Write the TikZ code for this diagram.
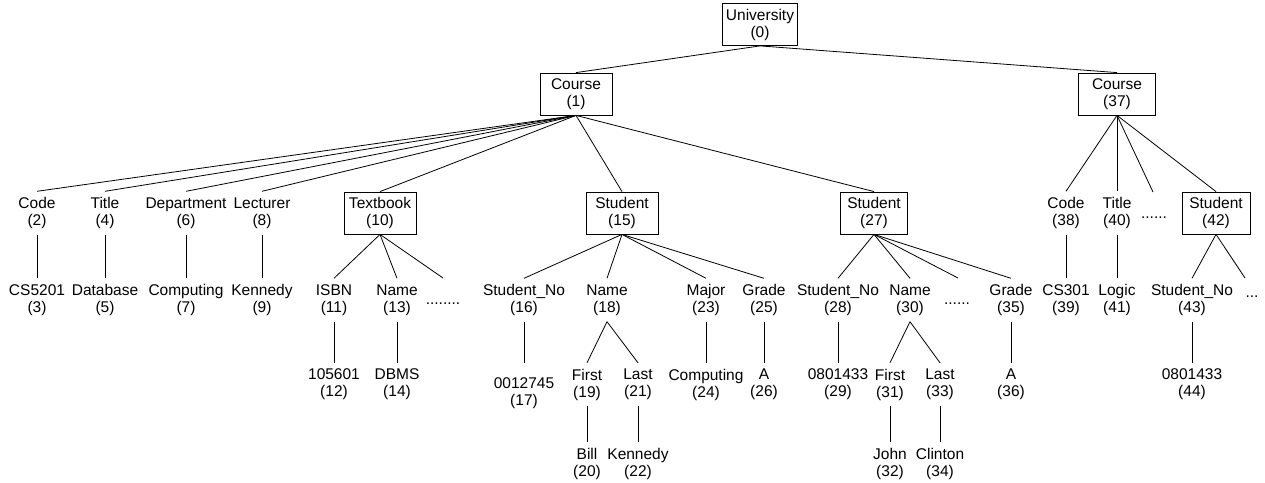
\documentclass[tikz,border=0pt]{standalone}
\usepackage{fontspec}
\setmainfont{Liberation Sans}
\newcommand{\lbfont}{\fontsize{15.5}{17}\selectfont}
\tikzset{
  box/.style={draw, line width=0.8pt, minimum width=72pt, minimum height=42pt, inner sep=0pt, align=center, font=\lbfont},
  lbl/.style={minimum height=43pt, inner sep=0pt, align=center, font=\lbfont},
  edge/.style={line width=0.8pt},
  dotsnode/.style={inner sep=0pt, font=\lbfont, anchor=base}
}
\begin{document}
\begin{tikzpicture}[x=1pt,y=-1pt]
\useasboundingbox (0,0) rectangle (1265,482);
% level 0 / course level
\node[box, minimum width=75pt] (n0) at (760,24.5) {University\\(0)};
\node[box] (n1) at (576,94) {Course\\(1)};
\node[box, minimum width=77pt] (n37) at (1117,94) {Course\\(37)};
% level 1
\node[lbl] (n2) at (37,213) {Code\\(2)};
\node[lbl] (n4) at (105,213) {Title\\(4)};
\node[lbl] (n6) at (186,213) {Department\\(6)};
\node[lbl] (n8) at (262,213) {Lecturer\\(8)};
\node[box] (n10) at (380,213) {Textbook\\(10)};
\node[box] (n15) at (622,213) {Student\\(15)};
\node[box, minimum width=67pt] (n27) at (874,213) {Student\\(27)};
\node[lbl] (n38) at (1066,213) {Code\\(38)};
\node[lbl] (n40) at (1117,213) {Title\\(40)};
\coordinate (d3) at (1153,192);
\node[dotsnode] (t3) at (1154,218) {......};
\node[box, minimum width=68pt] (n42) at (1216,213) {Student\\(42)};
% level 2
\node[lbl] (n3) at (37,300) {CS5201\\(3)};
\node[lbl] (n5) at (105,300) {Database\\(5)};
\node[lbl] (n7) at (186,300) {Computing\\(7)};
\node[lbl] (n9) at (262,300) {Kennedy\\(9)};
\node[lbl] (n11) at (334,300) {ISBN\\(11)};
\node[lbl] (n13) at (397,300) {Name\\(13)};
\coordinate (d1) at (443,278);
\node[dotsnode] (t1) at (443,304.5) {........};
\node[lbl] (n16) at (524,300) {Student\_No\\(16)};
\node[lbl] (n18) at (607,300) {Name\\(18)};
\node[lbl] (n23) at (706,300) {Major\\(23)};
\node[lbl] (n25) at (764,300) {Grade\\(25)};
\node[lbl] (n28) at (838,300) {Student\_No\\(28)};
\node[lbl] (n30) at (910,300) {Name\\(30)};
\coordinate (d2) at (958,278);
\node[dotsnode] (t2) at (957,304.5) {......};
\node[lbl] (n35) at (1011,300) {Grade\\(35)};
\node[lbl] (n39) at (1066,300) {CS301\\(39)};
\node[lbl] (n41) at (1117,300) {Logic\\(41)};
\node[lbl] (n43) at (1192,300) {Student\_No\\(43)};
\coordinate (d4) at (1245,278);
\node[dotsnode] (t4) at (1252,297) {...};
% level 3
\node[lbl] (n12) at (334,384.5) {105601\\(12)};
\node[lbl] (n14) at (397,384.5) {DBMS\\(14)};
\node[lbl, minimum height=61pt] (n17) at (524,393.5) {0012745\\(17)};
\node[lbl] (n19) at (587,384.5) {First\\(19)};
\node[lbl] (n21) at (638,384.5) {Last\\(21)};
\node[lbl] (n24) at (706,384.5) {Computing\\(24)};
\node[lbl] (n26) at (764,384.5) {A\\(26)};
\node[lbl] (n29) at (838,384.5) {0801433\\(29)};
\node[lbl] (n31) at (890,384.5) {First\\(31)};
\node[lbl] (n33) at (940,384.5) {Last\\(33)};
\node[lbl] (n36) at (1011,384.5) {A\\(36)};
\node[lbl] (n44) at (1192,384.5) {0801433\\(44)};
% level 4
\node[lbl] (n20) at (587,463.5) {Bill\\(20)};
\node[lbl] (n22) at (638,463.5) {Kennedy\\(22)};
\node[lbl] (n32) at (890,463.5) {John\\(32)};
\node[lbl] (n34) at (940,463.5) {Clinton\\(34)};
% edges
\draw[edge] (n0.south) -- (n1.north);
\draw[edge] (n0.south) -- (n37.north);
\foreach \c in {n2,n4,n6,n8,n10,n15,n27} \draw[edge] (n1.south) -- (\c.north);
\foreach \c in {n38,n40,n42} \draw[edge] (n37.south) -- (\c.north);
\draw[edge] (n37.south) -- (d3);
\foreach \a/\b in {n2/n3,n4/n5,n6/n7,n8/n9,n38/n39,n40/n41} \draw[edge] (\a.south) -- (\b.north);
\foreach \c in {n11,n13} \draw[edge] (n10.south) -- (\c.north);
\draw[edge] (n10.south) -- (d1);
\foreach \c in {n16,n18,n23,n25} \draw[edge] (n15.south) -- (\c.north);
\foreach \c in {n28,n30,n35} \draw[edge] (n27.south) -- (\c.north);
\draw[edge] (n27.south) -- (d2);
\draw[edge] (n42.south) -- (n43.north);
\draw[edge] (n42.south) -- (d4);
\foreach \a/\b in {n11/n12,n13/n14,n18/n19,n18/n21,n23/n24,n25/n26,n28/n29,n30/n31,n30/n33,n35/n36,n43/n44,n19/n20,n21/n22,n31/n32,n33/n34} \draw[edge] (\a.south) -- (\b.north);
\draw[edge] (n16.south) -- (n17.north);
\end{tikzpicture}
\end{document}
